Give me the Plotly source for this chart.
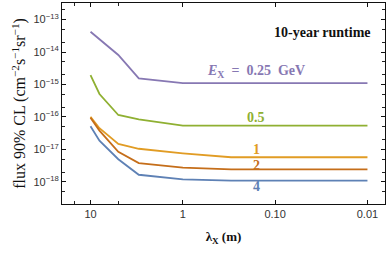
import plotly.graph_objects as go

lam = [10, 8, 5, 3, 1, 0.3, 0.01]
flux_025 = [4.2e-14, 2.5e-14, 8.1e-15, 1.55e-15, 1.1e-15, 1.1e-15, 1.1e-15]
flux_05 = [1.95e-15, 5.1e-16, 1.15e-16, 8.5e-17, 5.4e-17, 5.4e-17, 5.4e-17]
flux_1 = [1.02e-16, 4.5e-17, 1.48e-17, 1.05e-17, 7.6e-18, 5.75e-18, 5.75e-18]
flux_2 = [9.5e-17, 3.8e-17, 8.5e-18, 3.8e-18, 2.75e-18, 2.45e-18, 2.45e-18]
flux_4 = [5.2e-17, 1.86e-17, 5.0e-18, 1.66e-18, 1.2e-18, 1.1e-18, 1.1e-18]

series = [
    (flux_025, "#8778B3"),
    (flux_05, "#8FB032"),
    (flux_1, "#E19C24"),
    (flux_2, "#C56E1A"),
    (flux_4, "#5E81B5"),
]

x_tickvals = [10, 1, 0.1, 0.01]
x_ticktext = ["10", "1", "0.10", "0.01"]
y_exps = [-13, -14, -15, -16, -17, -18]

fig = go.Figure()
for ys, c in series:
    fig.add_trace(go.Scatter(x=lam, y=ys, mode="lines",
                             line=dict(color=c, width=1.8), showlegend=False))

serif = "Liberation Serif"
ann = [
    ("<i>E</i><sub>X</sub>\u2002=\u20020.25\u2002GeV", -14.585, "#8778B3"),
    ("0.5", -16.03, "#8FB032"),
    ("1", -17.015, "#E19C24"),
    ("2", -17.48, "#C56E1A"),
    ("4", -18.15, "#5E81B5"),
]
for t, yy, c in ann:
    fig.add_annotation(x=-0.793, y=yy, xref="x", yref="y", text="<b>" + t + "</b>",
                       showarrow=False, font=dict(family=serif, size=14, color=c))

fig.add_annotation(x=0.963, y=0.90, xref="paper", yref="paper", xanchor="right",
                   text="<b>10-year runtime</b>", showarrow=False,
                   font=dict(family=serif, size=14, color="#111"))

axis_common = dict(showline=True, linecolor="#111", linewidth=1.2, mirror="ticks",
                   ticks="inside", ticklen=4, tickcolor="#111", tickwidth=1,
                   showgrid=False, zeroline=False,
                   minor=dict(ticks="inside", ticklen=2.5, tickcolor="#222",
                              tickwidth=0.8, showgrid=False))

fig.update_xaxes(type="log", range=[1.309, -2.19], tickvals=x_tickvals,
                 ticktext=x_ticktext,
                 tickfont=dict(family="Liberation Sans", size=11, color="#333"),
                 title=dict(text="<b>λ<sub>X</sub> (m)</b>", standoff=12,
                            font=dict(family=serif, size=13, color="#111")),
                 **axis_common)
fig.update_yaxes(type="log", range=[-18.68, -12.49],
                 tickvals=[10 ** e for e in y_exps],
                 ticktext=["10<sup>−%d</sup>" % (-e) for e in y_exps],
                 tickfont=dict(family="Liberation Sans", size=11, color="#333"),
                 title=dict(text="flux 90% CL (cm<sup>−2</sup>s<sup>−1</sup>sr<sup>−1</sup>)",
                            standoff=3, font=dict(family=serif, size=16, color="#111")),
                 **axis_common)

fig.update_layout(width=390, height=254, margin=dict(l=62, r=5, t=3, b=50),
                  plot_bgcolor="white", paper_bgcolor="white")

fig.write_html("out.html", config={"displayModeBar": False},
               post_script="document.body.style.margin='0';document.body.style.overflow='hidden';")
